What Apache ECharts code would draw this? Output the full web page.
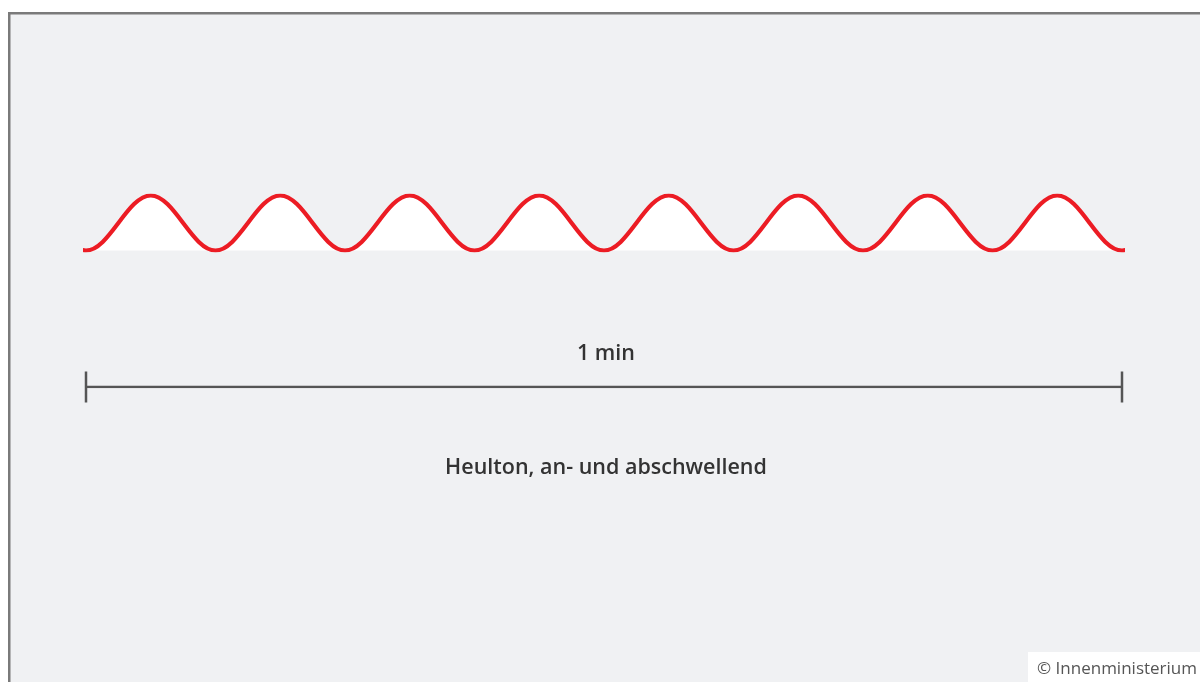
<!DOCTYPE html>
<html>
<head>
<meta charset="utf-8">
<script src="https://cdn.jsdelivr.net/npm/echarts@6/dist/echarts.min.js"></script>
<style>
html,body{margin:0;padding:0;background:#fff;}
#chart{width:1200px;height:682px;}
</style>
</head>
<body>
<div id="chart"></div>
<script>
// Signal: rising and falling siren tone, 8 swells in 1 minute (time in seconds).
// The pattern continues half a swell beyond each end; the plot is clipped at 0 and 60 s.
var waveTimes = [-3.75, 0, 3.75, 7.5, 11.25, 15, 18.75, 22.5, 26.25, 30, 33.75, 37.5, 41.25, 45, 48.75, 52.5, 56.25, 60, 63.75];
var waveLevels = [1, 0, 1, 0, 1, 0, 1, 0, 1, 0, 1, 0, 1, 0, 1, 0, 1, 0, 1];
// Scale bar: 1 minute
var scaleTimes = [0, 60];
var scaleLabel = '1 min';
var captionText = 'Heulton, an- und abschwellend';
var creditText = '\u00A9 Innenministerium';

var chart = echarts.init(document.getElementById('chart'), null, {renderer: 'canvas'});
var font = '"Open Sans", "Noto Sans", sans-serif';

var option = {
  backgroundColor: '#ffffff',
  animation: false,
  graphic: [
    {type: 'rect', z: -10, shape: {x: 9.25, y: 13.25, width: 1220, height: 700},
     style: {fill: '#f0f1f3', stroke: '#7a7a7a', lineWidth: 2.5}},
    {type: 'rect', z: 10, shape: {x: 1028, y: 652, width: 180, height: 40},
     style: {fill: '#ffffff'}},
    {type: 'text', z: 11, x: 1037, y: 669,
     style: {text: creditText, fill: '#555555', font: '17px ' + font, textVerticalAlign: 'middle'}}
  ],
  title: [
    {text: scaleLabel, left: 601, top: 349, textAlign: 'center', textVerticalAlign: 'middle',
     textStyle: {fontFamily: font, fontSize: 21.5, fontWeight: 600, color: '#333'}},
    {text: captionText, left: 601, top: 463, textAlign: 'center', textVerticalAlign: 'middle',
     textStyle: {fontFamily: font, fontSize: 21.5, fontWeight: 600, color: '#333'}}
  ],
  grid: [
    {left: 86, right: 78, top: 195.5, height: 55},
    {left: 86, right: 78, top: 386, height: 1}
  ],
  xAxis: [
    {type: 'value', gridIndex: 0, min: 0, max: 60, show: false},
    {type: 'value', gridIndex: 1, min: 0, max: 60, show: false}
  ],
  yAxis: [
    {type: 'value', gridIndex: 0, min: 0, max: 1, show: false},
    {type: 'value', gridIndex: 1, min: 0, max: 1, show: false}
  ],
  series: [
    {
      type: 'line', xAxisIndex: 0, yAxisIndex: 0, clip: true,
      data: waveTimes.map(function (t, i) { return [t, waveLevels[i]]; }),
      smooth: 0.36, symbol: 'none',
      lineStyle: {color: '#ec1c24', width: 4.2},
      areaStyle: {color: '#ffffff', opacity: 1, origin: 'start'}
    },
    {
      type: 'line', xAxisIndex: 1, yAxisIndex: 1,
      data: scaleTimes.map(function (t) { return [t, 0]; }),
      symbol: 'rect', symbolSize: [2.5, 31], symbolKeepAspect: false,
      itemStyle: {color: '#555555'},
      lineStyle: {color: '#555555', width: 2.5}
    }
  ]
};
chart.setOption(option);
</script>
</body>
</html>
